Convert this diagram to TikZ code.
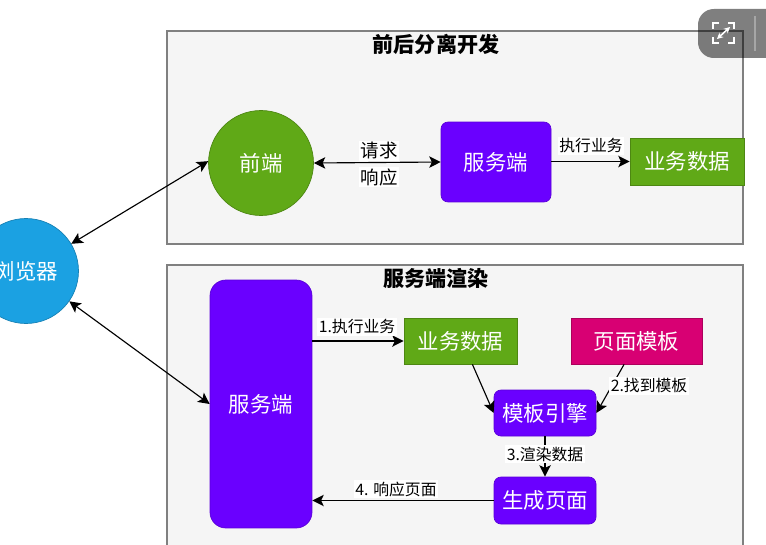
\documentclass[tikz,border=0pt]{standalone}
\usepackage{fontspec}
\setmainfont{Noto Sans CJK SC}
\usepackage{tikz}
\usetikzlibrary{arrows.meta,positioning,calc}
\definecolor{panelgray}{HTML}{F5F5F5}
\definecolor{panelline}{HTML}{808080}
\definecolor{webblue}{HTML}{1BA1E2}
\definecolor{leafgreen}{HTML}{60A917}
\definecolor{servpurple}{HTML}{6A00FF}
\definecolor{pagepink}{HTML}{D80073}
\tikzset{
    panel/.style={draw=panelline,fill=panelgray,line width=0.8pt},
    round/.style={circle,draw=#1!80!black,fill=#1,text=white,minimum size=2.1cm,inner sep=0pt,font=\fontsize{12.2}{12.2}\selectfont},
    serv/.style={rectangle,rounded corners=4pt,draw=servpurple!85!black,fill=servpurple,text=white,inner sep=0pt,font=\fontsize{12.2}{12.2}\selectfont},
    flat/.style={rectangle,draw=#1!80!black,fill=#1,text=white,inner sep=0pt,font=\fontsize{12.2}{12.2}\selectfont},
    tag/.style={fill=white,inner sep=1pt,font=\fontsize{9}{9}\selectfont},
    head/.style={font=\fontsize{12}{12}\selectfont\bfseries},
    link/.style={-{Stealth[length=6.5pt,width=6.5pt,inset=1.5pt]},black,line width=0.65pt},
    both/.style={{Stealth[length=6.5pt,width=6.5pt,inset=1.5pt]}-{Stealth[length=6.5pt,width=6.5pt,inset=1.5pt]},black,line width=0.65pt}
}
\begin{document}
\begin{tikzpicture}[x=0.02cm,y=-0.02cm]
    \useasboundingbox (0,0) rectangle (766,544);
    \begin{scope}
        \clip (0,0) rectangle (766,544);
        % panels
        \draw[panel] (167,31) rectangle (743,244);
        \draw[panel] (167,265) rectangle (743,560);

        % left and top row
        \node[round=webblue] (browser) at (26,271) {浏览器};
        \node[round=leafgreen] (front) at (261,163) {前端};
        \node[serv,minimum width=2.2cm,minimum height=1.6cm] (server) at (496,162) {服务端};
        \node[flat=leafgreen,minimum width=2.28cm,minimum height=0.94cm] (data) at (687,161.5) {业务数据};
        \node[head] (toptitle) at (436,44) {前后分离开发};

        % bottom panel
        \node[head] (bottitle) at (436,278) {服务端渲染};
        \node[serv,rounded corners=9pt,minimum width=2.04cm,minimum height=4.96cm] (render) at (261,404) {服务端};
        \node[flat=leafgreen,minimum width=2.26cm,minimum height=0.92cm] (sdata) at (460.5,341) {业务数据};
        \node[flat=pagepink,minimum width=2.62cm,minimum height=0.92cm] (template) at (636.5,341) {页面模板};
        \node[serv,minimum width=2.04cm,minimum height=0.92cm] (engine) at (545,413) {模板引擎};
        \node[serv,minimum width=2.04cm,minimum height=0.94cm] (page) at (545,500.5) {生成页面};

        % connectors
        \draw[both] (browser.31) -- (front.178);
        \draw[both] (browser.-35) -- (render.west);
        \draw[both] (front.east) -- (server.west);
        \draw[link] (server.east |- data.west) -- (data.west);
        \draw[link] (render.east |- sdata.west) -- (sdata.west);
        \draw[link] (sdata.-63) -- (engine.west);
        \draw[link] (template.-118) -- (engine.east);
        \draw[link] (engine.south) -- (page.north);
        \draw[link] (page.west) -- (page.west -| render.east);

        % labels
        \node[tag,font=\fontsize{10.5}{10.5}\selectfont] (ask) at (379,151) {请求};
        \node[tag,font=\fontsize{10.5}{10.5}\selectfont] (reply) at (379,177) {响应};
        \node[tag] (run) at (591,146) {执行业务};
        \node[tag] (step1) at (357,327) {1.执行业务};
        \node[tag] (step2) at (649,386) {2.找到模板};
        \node[tag] (step3) at (545,454) {3.渲染数据};
        \node[tag] (step4) at (396,489) {4. 响应页面};

        % viewer button
        \fill[black,opacity=0.5,rounded corners=9pt] (698,9) rectangle (790,58);
        \draw[white,opacity=0.3,line width=0.6pt] (755,16) -- (755,51);
        \draw[white,line width=1.2pt] (719,23) -- (713,23) -- (713,29);
        \draw[white,line width=1.2pt] (728,23) -- (734,23) -- (734,29);
        \draw[white,line width=1.2pt] (719,43) -- (713,43) -- (713,37);
        \draw[white,line width=1.2pt] (728,43) -- (734,43) -- (734,37);
        \draw[white,line width=0.9pt,{Stealth[length=3.5pt,width=3.5pt]}-{Stealth[length=3.5pt,width=3.5pt]}] (717,39) -- (730,27);
    \end{scope}
\end{tikzpicture}
\end{document}
